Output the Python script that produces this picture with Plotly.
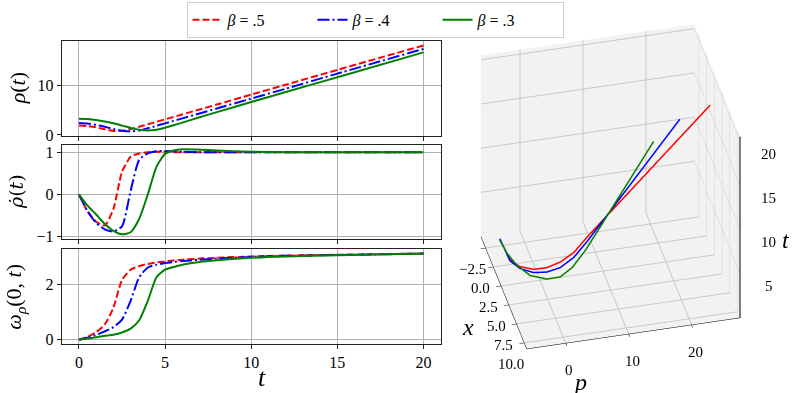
import plotly.graph_objects as go

# time grid for the three left panels
t = [0, 0.5, 1, 1.5, 2, 2.5, 3, 3.5, 4, 4.5, 5, 5.5, 6, 7, 8, 10, 12, 15, 20]

rho_05 = [1.9, 1.8, 1.55, 1.15, 0.8, 0.85, 1.2, 1.65, 2.15, 2.65, 3.15, 3.65, 4.15, 5.15, 6.15, 8.15, 10.15, 13.15, 18.1]
rho_04 = [2.4, 2.3, 2.05, 1.65, 1.22, 0.85, 0.7, 0.9, 1.35, 1.85, 2.35, 2.85, 3.35, 4.35, 5.35, 7.35, 9.35, 12.4, 17.4]
rho_03 = [3.3, 3.23, 3.04, 2.74, 2.35, 1.89, 1.43, 1.06, 0.91, 1.07, 1.47, 1.97, 2.5, 3.57, 4.62, 6.67, 8.67, 11.67, 16.7]

drho_05 = [0, -0.4, -0.65, -0.74, -0.35, 0.53, 0.89, 0.97, 1.0, 1.01, 1.01, 1.0, 1.0, 1.0, 1.0, 1.0, 1.0, 1.0, 1.0]
drho_04 = [0, -0.4, -0.68, -0.83, -0.88, -0.76, 0.08, 0.82, 0.97, 1.02, 1.03, 1.02, 1.01, 1.0, 1.0, 1.0, 1.0, 1.0, 1.0]
drho_03 = [0, -0.27, -0.48, -0.7, -0.87, -0.95, -0.9, -0.58, 0.0, 0.65, 0.96, 1.04, 1.07, 1.06, 1.04, 1.01, 1.0, 1.0, 1.0]

omega_05 = [0, 0.1, 0.27, 0.55, 1.15, 2.15, 2.52, 2.65, 2.73, 2.78, 2.82, 2.85, 2.88, 2.92, 2.95, 3.0, 3.03, 3.06, 3.1]
omega_04 = [0, 0.07, 0.17, 0.3, 0.45, 0.72, 1.4, 2.25, 2.6, 2.7, 2.76, 2.8, 2.83, 2.88, 2.92, 2.98, 3.02, 3.05, 3.1]
omega_03 = [0, 0.04, 0.09, 0.14, 0.18, 0.26, 0.4, 0.7, 1.4, 2.25, 2.52, 2.62, 2.7, 2.8, 2.86, 2.95, 3.0, 3.04, 3.1]

# 3D trajectories (x, p, t)
t3_05 = [0, 0.6, 1.25, 1.8, 2.4, 3.2, 4.3, 6.0, 20]
x3_05 = [-3.4, 0.0, 1.8, 3.0, 3.7, 4.1, 4.35, 4.5, 5.8]
p3_05 = [-3.5, -3.6, -2.9, -1.3, 0.5, 2.5, 4.5, 6.6, 25.4]

t3_04 = [0, 0.7, 1.3, 1.8, 2.45, 3.2, 4.4, 6.3, 20]
x3_04 = [-3.4, 0.3, 2.1, 3.4, 4.3, 4.8, 5.1, 5.35, 7.0]
p3_04 = [-3.5, -3.7, -3.0, -1.5, 0.2, 2.1, 4.1, 6.2, 20.0]

t3_03 = [0, 0.5, 1.2, 1.7, 2.65, 3.6, 5.0, 7.1, 9.5, 20]
x3_03 = [-3.3, -1.0, 1.5, 3.6, 5.4, 6.4, 7.0, 7.4, 7.8, 9.3]
p3_03 = [-3.6, -3.6, -3.25, -2.1, -0.3, 1.3, 2.9, 4.8, 6.6, 14.7]

x_range = [-4, 10.8]
p_range = [-6.2, 27.7]
t_range = [0, 20.5]
x_ticks = [-2.5, 0, 2.5, 5, 7.5, 10]
x_ticktext = ["−2.5", "0.0", "2.5", "5.0", "7.5", "10.0"]
p_ticks = [0, 10, 20]
t_ticks = [5, 10, 15, 20]

labels = ["<i>β</i> = .5", "<i>β</i> = .4", "<i>β</i> = .3"]
colors = ["#ff0000", "#0000ff", "#008000"]
dashes = ["7px,3px", "12px,3px,2px,3px", "solid"]

FONT = "Liberation Serif"
W, H = 792, 393

fig = go.Figure()

panels = [(rho_05, rho_04, rho_03), (drho_05, drho_04, drho_03), (omega_05, omega_04, omega_03)]
for k, series in enumerate(panels):
    ax = "" if k == 0 else str(k + 1)
    for i, ys in enumerate(series):
        fig.add_trace(go.Scatter(
            x=t, y=ys, mode="lines", name=labels[i],
            line=dict(color=colors[i], width=2, dash=dashes[i], shape="spline", smoothing=0.6),
            showlegend=(k == 0), xaxis="x" + ax, yaxis="y" + ax,
        ))

for i, (xx, pp, tt) in enumerate([(x3_05, p3_05, t3_05), (x3_04, p3_04, t3_04), (x3_03, p3_03, t3_03)]):
    fig.add_trace(go.Scatter3d(
        x=xx, y=pp, z=tt, mode="lines", showlegend=False,
        line=dict(color=colors[i], width=3), scene="scene",
    ))

# vertical t axis line on the front-right edge
fig.add_trace(go.Scatter3d(
    x=[x_range[1], x_range[1]], y=[p_range[1], p_range[1]], z=t_range,
    mode="lines", line=dict(color="black", width=2), showlegend=False, hoverinfo="skip",
))

xdom = [61.7 / W, 440.7 / W]
ydoms = [[0.6547, 0.8957], [0.3919, 0.6310], [0.1247, 0.3656]]
yranges = [[-0.15, 19.0], [-1.06, 1.17], [-0.155, 3.255]]
yticks = [[0, 10], [-1, 0, 1], [0, 2]]
yticktext = [["0", "10"], ["−1", "0", "1"], ["0", "2"]]

common = dict(showline=True, linecolor="#222222", linewidth=1, mirror=True,
              showgrid=True, gridcolor="#b0b0b0", gridwidth=0.8, zeroline=False,
              ticks="outside", ticklen=4, tickcolor="#222222",
              tickfont=dict(family=FONT, size=16, color="black"), automargin=False)

layout = {}
for k in range(3):
    ax = "" if k == 0 else str(k + 1)
    layout["xaxis" + ax] = dict(common, domain=xdom, range=[-1, 21], anchor="y" + ax,
                                tickvals=[0, 5, 10, 15, 20], showticklabels=(k == 2))
    layout["yaxis" + ax] = dict(common, domain=ydoms[k], range=yranges[k], anchor="x" + ax,
                                tickvals=yticks[k], ticktext=yticktext[k])
fig.update_layout(**layout)

ax3 = dict(showbackground=True, backgroundcolor="#f2f2f2", gridcolor="#c8c8c8",
           showline=True, linecolor="black", ticks="outside", tickcolor="black",
           zeroline=False, showspikes=False, showticklabels=False, title=dict(text=""))

tick_font = dict(family=FONT, size=15, color="black")
scene_ann = []
for v, txt in zip(x_ticks, x_ticktext):
    scene_ann.append(dict(x=v, y=p_range[0], z=t_range[0], text=txt, showarrow=False,
                          xshift=-13, yshift=-21, font=tick_font))
for v in p_ticks:
    scene_ann.append(dict(x=x_range[1], y=v, z=t_range[0], text=str(v), showarrow=False,
                          xshift=3, yshift=-27, font=tick_font))
for v in t_ticks:
    scene_ann.append(dict(x=x_range[1], y=p_range[1], z=v, text=str(v), showarrow=False,
                          xshift=28, yshift=-13, font=tick_font))

fig.update_layout(
    scene=dict(
        domain=dict(x=[0.5545, 0.9881], y=[0.049, 0.9796]),
        xaxis=dict(ax3, range=x_range, tickvals=x_ticks),
        yaxis=dict(ax3, range=p_range, tickvals=p_ticks),
        zaxis=dict(ax3, range=t_range, tickvals=t_ticks, showline=False, ticks=""),
        aspectmode="manual", aspectratio=dict(x=1.056, y=1.2, z=1.236),
        camera=dict(eye=dict(x=1.26, y=-0.307, z=0.938), up=dict(x=0, y=0, z=1),
                    center=dict(x=0, y=0, z=-0.03),
                    projection=dict(type="orthographic")),
        annotations=scene_ann,
    ),
    annotations=[
        dict(text="<i>ρ</i>(<i>t</i>)", x=17 / W, y=(0.6547 + 0.8957) / 2, xref="paper", yref="paper",
             xanchor="center", yanchor="middle",
             textangle=-90, showarrow=False, font=dict(family=FONT, size=22, color="black")),
        dict(text="<i>ρ̇</i>(<i>t</i>)", x=16 / W, y=(0.3919 + 0.6310) / 2, xref="paper", yref="paper",
             xanchor="center", yanchor="middle",
             textangle=-90, showarrow=False, font=dict(family="DejaVu Serif", size=19, color="black")),
        dict(text="<i>ω<sub>ρ</sub></i>(0, <i>t</i>)", x=15 / W, y=(0.1247 + 0.3656) / 2, xref="paper", yref="paper",
             xanchor="center", yanchor="middle",
             textangle=-90, showarrow=False, font=dict(family=FONT, size=22, color="black")),
        dict(text="<i>t</i>", x=262 / W, y=(H - 377) / H, xref="paper", yref="paper",
             xanchor="center", yanchor="middle",
             showarrow=False, font=dict(family=FONT, size=26, color="black")),
        # 3D axis titles
        dict(text="<i>x</i>", x=468 / W, y=(H - 327) / H, xref="paper", yref="paper",
             xanchor="center", yanchor="middle",
             showarrow=False, font=dict(family=FONT, size=24, color="black")),
        dict(text="<i>p</i>", x=580 / W, y=(H - 382) / H, xref="paper", yref="paper",
             xanchor="center", yanchor="middle",
             showarrow=False, font=dict(family=FONT, size=24, color="black")),
        dict(text="<i>t</i>", x=786 / W, y=(H - 240) / H, xref="paper", yref="paper",
             xanchor="center", yanchor="middle",
             showarrow=False, font=dict(family=FONT, size=24, color="black")),
    ],
    legend=dict(orientation="h", x=375 / W, xanchor="center", y=0.995, yanchor="top",
                bordercolor="#cccccc", borderwidth=1, bgcolor="white",
                font=dict(family=FONT, size=16, color="black"),
                entrywidth=80, entrywidthmode="pixels"),
    width=W, height=H,
    margin=dict(l=0, r=0, t=0, b=0),
    paper_bgcolor="white", plot_bgcolor="white",
    font=dict(family=FONT, color="black"),
)

fig.write_html("out.html", config={"displayModeBar": False},
               post_script="document.body.style.margin='0';document.body.style.overflow='hidden';")
